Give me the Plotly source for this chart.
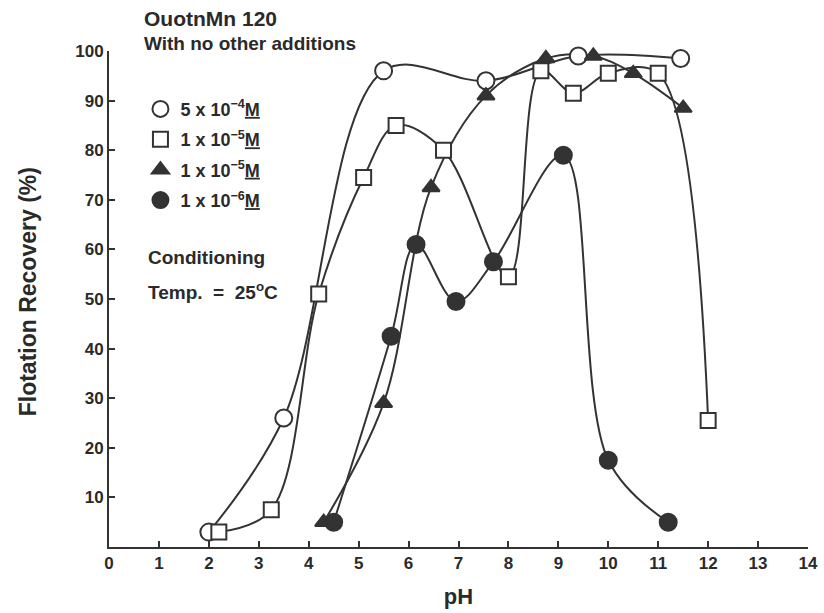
import plotly.graph_objects as go

# pH / flotation recovery (%) for each collector concentration
ph_open_circle = [2.0, 3.5, 5.5, 7.55, 9.4, 11.45]
rec_open_circle = [3.0, 26.0, 96.0, 94.0, 99.0, 98.5]

ph_open_square = [2.2, 3.25, 4.2, 5.1, 5.75, 6.7, 8.0, 8.65, 9.3, 10.0, 11.0, 12.0]
rec_open_square = [3.0, 7.5, 51.0, 74.5, 85.0, 80.0, 54.5, 96.0, 91.5, 95.5, 95.5, 25.5]

ph_triangle = [4.3, 5.5, 6.45, 7.55, 8.75, 9.7, 10.5, 11.5]
rec_triangle = [5.0, 29.0, 72.5, 91.0, 98.5, 99.0, 95.5, 88.5]

ph_filled_circle = [4.5, 5.65, 6.15, 6.95, 7.7, 9.1, 10.0, 11.2]
rec_filled_circle = [5.0, 42.5, 61.0, 49.5, 57.5, 79.0, 17.5, 5.0]

series_names = [
    "5 x 10<sup>−4</sup><u>M</u>",
    "1 x 10<sup>−5</sup><u>M</u>",
    "1 x 10<sup>−5</sup><u>M</u>",
    "1 x 10<sup>−6</sup><u>M</u>",
]

x_ticks = list(range(0, 15))
y_ticks = list(range(10, 101, 10))

INK = "#333333"
TEXT = "#2a2a2a"
FONT = "Liberation Sans, Arial, sans-serif"

series = [
    (ph_open_circle, rec_open_circle, "circle", "white", 17),
    (ph_open_square, rec_open_square, "square", "white", 15),
    (ph_triangle, rec_triangle, "triangle-up", INK, 15),
    (ph_filled_circle, rec_filled_circle, "circle", INK, 17),
]

fig = go.Figure()

# smooth hand-drawn style curves underneath
for xs, ys, _, _, _ in series:
    fig.add_trace(go.Scatter(
        x=xs, y=ys, mode="lines",
        line=dict(color=INK, width=2, shape="spline", smoothing=1.0),
        showlegend=False, hoverinfo="skip", cliponaxis=False,
    ))

# markers on top (open symbols get a white fill so lines stay hidden)
for i, ((xs, ys, sym, fill, size), name) in enumerate(zip(series, series_names)):
    fig.add_trace(go.Scatter(
        x=xs, y=ys, mode="markers", name=name, legendgroup=f"g{i}",
        marker=dict(symbol=sym, size=size, color=fill,
                    line=dict(color=INK, width=2)),
        cliponaxis=False,
    ))

fig.update_layout(
    width=824, height=613,
    margin=dict(l=109, r=16, t=51, b=66),
    paper_bgcolor="white", plot_bgcolor="white",
    font=dict(family=FONT, color=TEXT, size=17, weight="bold"),
    showlegend=True,
    legend=dict(
        x=0.045, y=0.92, xanchor="left", yanchor="top",
        bgcolor="rgba(0,0,0,0)",
        font=dict(family=FONT, size=18, color=TEXT, weight="bold"),
        tracegroupgap=4, itemwidth=30,
    ),
    xaxis=dict(
        range=[0, 14], tickvals=x_ticks, ticktext=[str(v) for v in x_ticks],
        showline=True, linecolor=INK, linewidth=2,
        ticks="inside", ticklen=6, tickwidth=2, tickcolor=INK,
        showgrid=False, zeroline=False, automargin=False,
        tickfont=dict(family=FONT, size=17, color=TEXT, weight="bold"),
        title=dict(text="pH", standoff=16,
                   font=dict(family=FONT, size=22, color=TEXT, weight="bold")),
    ),
    yaxis=dict(
        range=[0, 100], tickvals=y_ticks, ticktext=[str(v) for v in y_ticks],
        showline=True, linecolor=INK, linewidth=2,
        ticks="inside", ticklen=6, tickwidth=2, tickcolor=INK,
        showgrid=False, zeroline=False, automargin=False,
        tickfont=dict(family=FONT, size=17, color=TEXT, weight="bold"),
    ),
)


def px_to_paper(px, py):
    return (px - 109) / 699.0, (546.7 - py) / 496.0


annotations = [
    ("OuotnMn 120", 142, 18, 21),
    ("With no other additions", 142, 43, 19),
    ("Conditioning", 146, 257, 19),
    ("Temp.  =  25<sup>o</sup>C", 146, 291, 19),
]
for text, px, py, size in annotations:
    ax, ay = px_to_paper(px, py)
    fig.add_annotation(
        x=ax, y=ay, xref="paper", yref="paper", text=text,
        showarrow=False, xanchor="left", yanchor="middle",
        font=dict(family=FONT, size=size, color=TEXT, weight="bold"),
    )

tx, ty = px_to_paper(28, 292)
fig.add_annotation(
    x=tx, y=ty, xref="paper", yref="paper", text="Flotation Recovery (%)",
    showarrow=False, textangle=-90, xanchor="center", yanchor="middle",
    font=dict(family=FONT, size=23, color=TEXT, weight="bold"),
)

fig.write_html("out.html")
